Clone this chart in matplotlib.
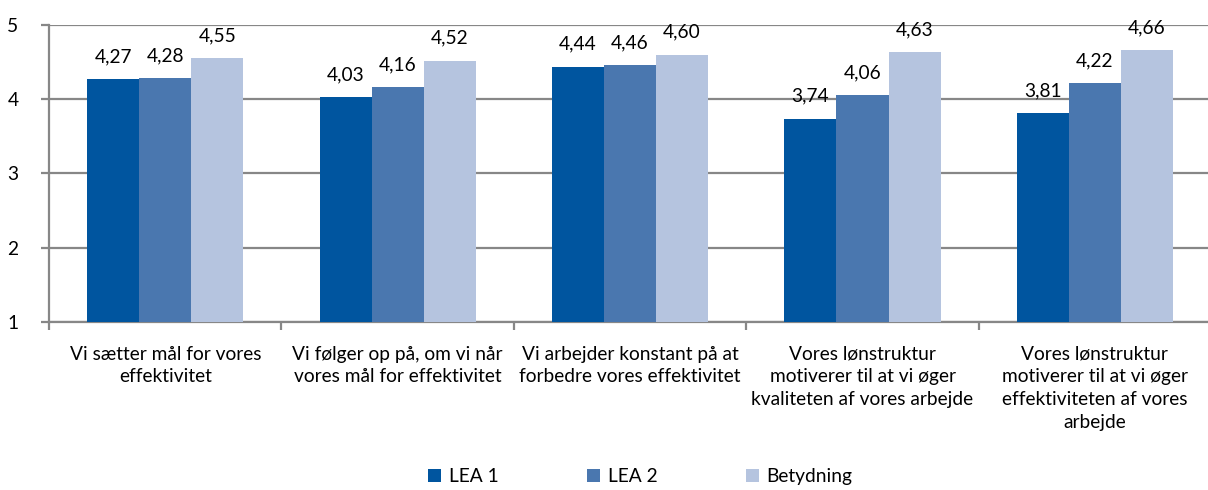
import numpy as np
import matplotlib
matplotlib.use("Agg")
import matplotlib.pyplot as plt
from matplotlib.ticker import FixedLocator

# data
categories = [
    "Vi sætter mål for vores\neffektivitet",
    "Vi følger op på, om vi når\nvores mål for effektivitet",
    "Vi arbejder konstant på at\nforbedre vores effektivitet",
    "Vores lønstruktur\nmotiverer til at vi øger\nkvaliteten af vores arbejde",
    "Vores lønstruktur\nmotiverer til at vi øger\neffektiviteten af vores\narbejde",
]
series_names = ["LEA 1", "LEA 2", "Betydning"]
lea1 = [4.27, 4.03, 4.44, 3.74, 3.81]
lea2 = [4.28, 4.16, 4.46, 4.06, 4.22]
betydning = [4.55, 4.52, 4.60, 4.63, 4.66]
colors = ["#00559F", "#4A77AF", "#B5C4DF"]

plt.rcParams['font.family'] = ['Lato', 'DejaVu Sans']
fs = 13.8
grid_col = "#878787"

fig = plt.figure(figsize=(12.08, 4.9), dpi=100)
ax = fig.add_axes([0.0406, 0.343, 0.962, 0.606])

x = np.arange(len(categories))
w = 0.224
for i, (vals, name, col) in enumerate(zip([lea1, lea2, betydning], series_names, colors)):
    pos = x + (i - 1) * w
    ax.bar(pos, [v - 1 for v in vals], width=w, bottom=1, color=col, label=name, zorder=3)
    for px, v in zip(pos, vals):
        ax.annotate(("%.2f" % v).replace(".", ","), (px, v), xytext=(0, 10),
                    textcoords="offset points", ha="center", va="bottom", fontsize=fs)

ax.set_xlim(-0.5, len(categories) - 0.5)
ax.set_ylim(1, 5)
ax.set_yticks([1, 2, 3, 4, 5])
ax.yaxis.grid(True, color=grid_col, linewidth=1.6, zorder=0)
ax.set_axisbelow(True)

# category ticks between groups, labels at centres
ax.xaxis.set_major_locator(FixedLocator(np.arange(-0.5, len(categories), 1.0)))
ax.set_xticklabels([])
ax.set_xticks(x, minor=True)
ax.set_xticklabels(categories, minor=True, fontsize=fs, linespacing=1.42)
ax.tick_params(axis="x", which="minor", length=0, pad=17)
ax.tick_params(axis="x", which="major", length=6, width=1.6, color=grid_col, direction="out")
ax.tick_params(axis="y", length=6, width=1.6, color=grid_col, labelsize=fs, pad=16)

for s in ["top", "right"]:
    ax.spines[s].set_visible(False)
for s in ["left", "bottom"]:
    ax.spines[s].set_color(grid_col)
    ax.spines[s].set_linewidth(1.6)

fig.legend(loc="lower center", ncol=3, frameon=False, fontsize=fs,
           handlelength=0.7, handleheight=0.7, handletextpad=0.4,
           columnspacing=4.6, bbox_to_anchor=(0.53, -0.025))

fig.savefig("out.png", dpi=100)
